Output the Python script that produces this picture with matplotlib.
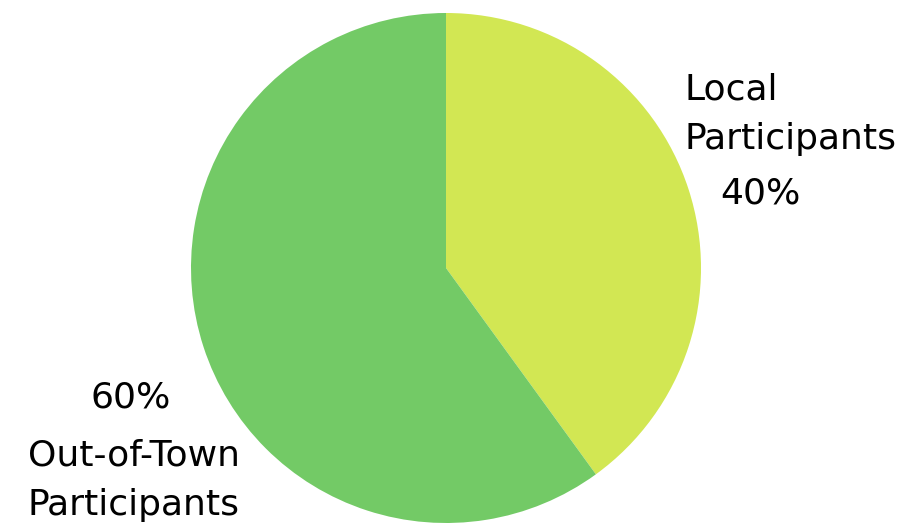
import matplotlib
matplotlib.use("Agg")
import matplotlib.pyplot as plt

labels = ["Local\nParticipants", "Out-of-Town\nParticipants"]
shares = [40, 60]
colors = ["#d2e753", "#73ca66"]

fig = plt.figure(figsize=(9.09, 5.23), dpi=100)
# pie centre ~ (446, 268) px, radius ~255 px
ax = fig.add_axes([191 / 909, 0 / 523, 510 / 909, 510 / 523])
ax.pie(shares, colors=colors, startangle=90, counterclock=False,
       radius=1.0, wedgeprops=dict(linewidth=0))
ax.set_xlim(-1, 1)
ax.set_ylim(-1, 1)
ax.set_aspect("equal")
ax.axis("off")

fs = 26
fam = "DejaVu Sans"
fig.text(685 / 909, 1 - 114 / 523, labels[0], ha="left", va="center",
         fontsize=fs, family=fam, linespacing=1.58)
fig.text(760 / 909, 1 - 193 / 523, f"{shares[0]}%", ha="center", va="center",
         fontsize=fs, family=fam)
fig.text(131 / 909, 1 - 398 / 523, f"{shares[1]}%", ha="center", va="center",
         fontsize=fs, family=fam)
fig.text(240 / 909, 1 - 480 / 523, labels[1], ha="right", va="center",
         fontsize=fs, family=fam, linespacing=1.58, multialignment="right")

fig.savefig("out.png", dpi=100)
